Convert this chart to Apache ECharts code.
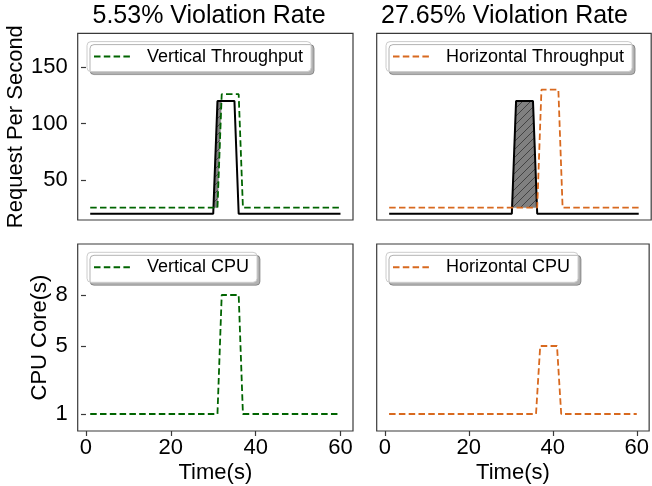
<!DOCTYPE html>
<html><head><meta charset="utf-8">
<script src="https://cdn.jsdelivr.net/npm/echarts@6/dist/echarts.min.js"></script>
<style>html,body{margin:0;padding:0;background:#fff}#c{width:652px;height:486px}</style>
</head><body><div id="c"></div>
<script>
// ---------------- data ----------------
const time = [1,2,3,4,5,6,7,8,9,10,11,12,13,14,15,16,17,18,19,20,21,22,23,24,25,26,27,28,29,30,
  31,32,33,34,35,36,37,38,39,40,41,42,43,44,45,46,47,48,49,50,51,52,53,54,55,56,57,58,59,60];
const requestRate = [20,20,20,20,20,20,20,20,20,20,20,20,20,20,20,20,20,20,20,20,20,20,20,20,20,20,20,20,20,20,
  120,120,120,120,120,20,20,20,20,20,20,20,20,20,20,20,20,20,20,20,20,20,20,20,20,20,20,20,20,20];
const verticalThroughput = [25.5,25.5,25.5,25.5,25.5,25.5,25.5,25.5,25.5,25.5,25.5,25.5,25.5,25.5,25.5,25.5,25.5,25.5,25.5,25.5,25.5,25.5,25.5,25.5,25.5,25.5,25.5,25.5,25.5,25.5,
  25.5,126,126,126,126,126,25.5,25.5,25.5,25.5,25.5,25.5,25.5,25.5,25.5,25.5,25.5,25.5,25.5,25.5,25.5,25.5,25.5,25.5,25.5,25.5,25.5,25.5,25.5,25.5];
const horizontalThroughput = [25.5,25.5,25.5,25.5,25.5,25.5,25.5,25.5,25.5,25.5,25.5,25.5,25.5,25.5,25.5,25.5,25.5,25.5,25.5,25.5,25.5,25.5,25.5,25.5,25.5,25.5,25.5,25.5,25.5,25.5,
  25.5,25.5,25.5,25.5,25.5,25.5,130,130,130,130,130,25.5,25.5,25.5,25.5,25.5,25.5,25.5,25.5,25.5,25.5,25.5,25.5,25.5,25.5,25.5,25.5,25.5,25.5,25.5];
const verticalCPU = [1,1,1,1,1,1,1,1,1,1,1,1,1,1,1,1,1,1,1,1,1,1,1,1,1,1,1,1,1,1,
  1,8,8,8,8,8,1,1,1,1,1,1,1,1,1,1,1,1,1,1,1,1,1,1,1,1,1,1,1,1];
const horizontalCPU = [1,1,1,1,1,1,1,1,1,1,1,1,1,1,1,1,1,1,1,1,1,1,1,1,1,1,1,1,1,1,
  1,1,1,1,1,1,5,5,5,5,5,1,1,1,1,1,1,1,1,1,1,1,1,1,1,1,1,1,1,1];
const titles = ['5.53% Violation Rate', '27.65% Violation Rate'];
const seriesNames = ['Vertical Throughput', 'Horizontal Throughput', 'Vertical CPU', 'Horizontal CPU'];
const xTicks = [0, 20, 40, 60];
const rpsTicks = [50, 100, 150];
const cpuTicks = [1, 5, 8];

// ---------------- helpers ----------------
const FONT = 'Liberation Sans, Arial, sans-serif';
const GREEN = '#006400', ORANGE = '#d8691f';
const DASH = [6.5, 3.3];

function pairs(arr) { return time.map((t, i) => [t, arr[i]]); }

// fill_between(top, bottom, where top>bottom, interpolate=True)
function fillPolys(top, bottom) {
  const polys = []; let up = null, low = null;
  for (let i = 0; i < time.length; i++) {
    const d = top[i] - bottom[i];
    if (d > 0) {
      if (!up) {
        up = []; low = [];
        if (i > 0) {
          const dp = top[i-1] - bottom[i-1];
          const f = dp / (dp - d);
          const xc = time[i-1] + f * (time[i] - time[i-1]);
          const yc = bottom[i-1] + f * (bottom[i] - bottom[i-1]);
          up.push([xc, yc]); low.push([xc, yc]);
        }
      }
      up.push([time[i], top[i]]); low.push([time[i], bottom[i]]);
    } else if (up) {
      const dp = top[i-1] - bottom[i-1];
      const f = dp / (dp - d);
      const xc = time[i-1] + f * (time[i] - time[i-1]);
      const yc = bottom[i-1] + f * (bottom[i] - bottom[i-1]);
      up.push([xc, yc]);
      polys.push(up.concat(low.reverse()));
      up = null; low = null;
    }
  }
  if (up) polys.push(up.concat(low.reverse()));
  return polys;
}

const hatch = document.createElement('canvas');
hatch.width = 8; hatch.height = 8;
(function () {
  const g = hatch.getContext('2d');
  g.fillStyle = '#808080'; g.fillRect(0, 0, 8, 8);
  g.strokeStyle = '#3c3c3c'; g.lineWidth = 0.9;
  g.beginPath();
  g.moveTo(0, 8); g.lineTo(8, 0);
  g.moveTo(-2, 2); g.lineTo(2, -2);
  g.moveTo(6, 10); g.lineTo(10, 6);
  g.stroke();
})();

function fillSeries(idx, top, bottom) {
  const polys = fillPolys(top, bottom);
  return {
    type: 'custom', xAxisIndex: idx, yAxisIndex: idx, silent: true, z: 1,
    data: polys.map((p, k) => [p[0][0], p[0][1], k]),
    encode: { x: 0, y: 1 },
    renderItem: function (params, api) {
      const poly = polys[api.value(2)];
      return { type: 'polygon', shape: { points: poly.map(p => api.coord(p)) },
        style: { fill: { image: hatch, repeat: 'repeat' }, stroke: '#808080', lineWidth: 0.5 } };
    }
  };
}

function lineSeries(idx, name, arr, color, dashed) {
  return {
    type: 'line', name: name, xAxisIndex: idx, yAxisIndex: idx, data: pairs(arr),
    symbol: 'none', showSymbol: false, z: dashed ? 4 : 3,
    lineStyle: { color: color, width: dashed ? 1.8 : 2, type: dashed ? DASH : 'solid' },
    itemStyle: { color: color }
  };
}

const GRIDS = [
  { left: 77.7, top: 33.3, width: 275.3, height: 186.7 },
  { left: 376.7, top: 33.3, width: 274.5, height: 186.7 },
  { left: 77.7, top: 244, width: 275.3, height: 187 },
  { left: 376.7, top: 244, width: 274.5, height: 187 }
];
const SPINE = '#3a3a3a';

const grid = GRIDS.map(g => Object.assign({ show: true, borderColor: SPINE, borderWidth: 1.2, backgroundColor: 'transparent', containLabel: false }, g));

const xAxis = GRIDS.map((g, i) => {
  const bottom = i >= 2;
  return {
    type: 'value', gridIndex: i, min: -1.95, max: 62.95,
    axisLine: { show: false },
    axisTick: { show: bottom, customValues: xTicks, length: 5, lineStyle: { color: SPINE, width: 1.2 } },
    axisLabel: { show: bottom, customValues: xTicks, fontSize: 22, fontFamily: FONT, color: '#000', margin: 6 },
    splitLine: { show: false },
    name: bottom ? 'Time(s)' : '', nameLocation: 'middle', nameGap: 31,
    nameTextStyle: { fontSize: 22, fontFamily: FONT, color: '#000' }
  };
});

const yAxis = GRIDS.map((g, i) => {
  const left = i % 2 === 0;
  const top = i < 2;
  const ticks = top ? rpsTicks : cpuTicks;
  return {
    type: 'value', gridIndex: i, min: top ? 14.5 : 0, max: top ? 180 : 11,
    axisLine: { show: false },
    axisTick: { show: left, customValues: ticks, length: 5, lineStyle: { color: SPINE, width: 1.2 } },
    axisLabel: { show: left, customValues: ticks, fontSize: 22, fontFamily: FONT, color: '#000', margin: 10 },
    splitLine: { show: false },
    name: left ? (top ? 'Request Per Second' : 'CPU Core(s)') : '',
    nameLocation: 'middle', nameRotate: 90, nameGap: top ? 50 : 27,
    nameTextStyle: { fontSize: 22, fontFamily: FONT, color: '#000' }
  };
});

const legend = GRIDS.map((g, i) => ({
  data: [seriesNames[i]], left: g.left + 9.3, top: g.top + 8.3,
  orient: 'horizontal', selectedMode: false,
  itemWidth: 37, itemHeight: 14, padding: [6, 8, 6, 6],
  itemStyle: { opacity: 0 },
  backgroundColor: '#fff', borderColor: '#cccccc', borderWidth: 1, borderRadius: 4,
  shadowColor: 'rgba(0,0,0,0.3)', shadowOffsetX: 3, shadowOffsetY: 3, shadowBlur: 0.5,
  textStyle: { fontSize: 18, fontFamily: FONT, color: '#000', lineHeight: 18, padding: [0, 0, 0, 11] }
}));

const title = [
  { text: titles[0], left: 92.5, top: 4, padding: 0, textStyle: { fontSize: 25, fontWeight: 'normal', fontFamily: FONT, color: '#000' } },
  { text: titles[1], left: 381, top: 4, padding: 0, textStyle: { fontSize: 25, fontWeight: 'normal', fontFamily: FONT, color: '#000' } }
];

const series = [
  fillSeries(0, requestRate, verticalThroughput),
  lineSeries(0, 'Request', requestRate, '#000', false),
  lineSeries(0, seriesNames[0], verticalThroughput, GREEN, true),
  fillSeries(1, requestRate, horizontalThroughput),
  lineSeries(1, 'Request ', requestRate, '#000', false),
  lineSeries(1, seriesNames[1], horizontalThroughput, ORANGE, true),
  lineSeries(2, seriesNames[2], verticalCPU, GREEN, true),
  lineSeries(3, seriesNames[3], horizontalCPU, ORANGE, true)
];

const chart = echarts.init(document.getElementById('c'), null, { renderer: 'canvas' });
chart.setOption({ animation: false, backgroundColor: '#fff', title, grid, xAxis, yAxis, legend, series });
</script>
</body></html>
